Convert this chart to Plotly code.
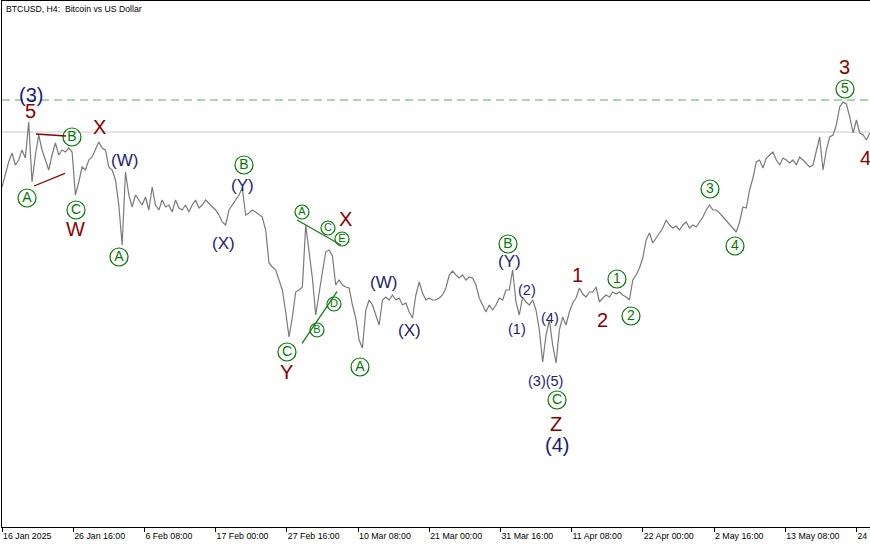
import plotly.graph_objects as go
import pandas as pd

close_usd = [
    99820, 101500, 103320, 104580, 102900, 103600, 105000, 103880, 108920, 100520,
    104300, 107100, 105000, 103600, 102200, 104300, 105980, 104300, 105000, 104720,
    105280, 104720, 98700, 100520, 102620, 102200, 103600, 104020, 105000, 106120,
    105280, 105000, 102620, 102200, 100800, 97300, 91700, 101920, 98700, 97020,
    98700, 98000, 97300, 98420, 96600, 99820, 97300, 96600, 98000, 97020,
    97300, 96320, 98000, 96880, 96600, 97300, 96320, 97300, 98000, 96880,
    97300, 98000, 97580, 97020, 96600, 95900, 94920, 94500, 96600, 97300,
    98000, 98700, 99680, 95900, 96180, 96600, 96320, 95900, 95620, 93800,
    89180, 88620, 88200, 86800, 85400, 82320, 78820, 81620, 85120, 85400,
    85820, 94500, 91000, 87080, 81900, 85120, 87920, 90720, 91000, 90160,
    86100, 86800, 86100, 85820, 85680, 83300, 81480, 78400, 77280, 82600,
    84000, 83300, 81900, 80500, 84000, 84420, 84000, 84700, 84000, 84280,
    83300, 83580, 82320, 81480, 84700, 86520, 84980, 84000, 84280, 84000,
    84000, 84280, 84700, 85680, 87500, 88060, 87500, 87080, 87500, 86800,
    87220, 87080, 86100, 84280, 83300, 82320, 83300, 82600, 83300, 84280,
    84000, 85400, 85400, 88200, 83720, 81900, 84420, 83720, 83300, 84000,
    82600, 79800, 75320, 79100, 81200, 77700, 75180, 79800, 81620, 80500,
    82320, 83580, 84280, 85680, 84840, 84420, 85120, 85120, 85820, 83720,
    84280, 84700, 84420, 85120, 84840, 85120, 84700, 84420, 84000, 86800,
    87500, 88480, 89880, 92400, 93380, 91980, 92680, 93380, 94080, 95200,
    94500, 94080, 94360, 93800, 94500, 94920, 94080, 94500, 94220, 94920,
    95620, 96600, 97300, 96600, 96600, 96180, 95620, 95200, 94500, 94080,
    93520, 94920, 97020, 96880, 99400, 101080, 103320, 103600, 102480, 103880,
    104300, 104720, 103600, 102900, 103880, 103600, 103180, 103600, 102900, 104020,
    103600, 103180, 102620, 102900, 105000, 106820, 102200, 105000, 106820, 107100,
    108500, 111020, 111720, 111440, 109620, 107380, 109200, 107380, 107100, 106400,
    107380,
]
start_time = "2025-01-16 00:00"
times = pd.date_range(start_time, periods=len(close_usd), freq="12h")

tick_times = [
    "2025-01-16 00:00", "2025-01-26 16:00", "2025-02-06 08:00", "2025-02-17 00:00",
    "2025-02-27 16:00", "2025-03-10 08:00", "2025-03-21 00:00", "2025-03-31 16:00",
    "2025-04-11 08:00", "2025-04-22 00:00", "2025-05-02 16:00", "2025-05-13 08:00",
    "2025-05-24 00:00",
]
tick_labels = [
    "16 Jan 2025", "26 Jan 16:00", "6 Feb 08:00", "17 Feb 00:00", "27 Feb 16:00",
    "10 Mar 08:00", "21 Mar 00:00", "31 Mar 16:00", "11 Apr 08:00", "22 Apr 00:00",
    "2 May 16:00", "13 May 08:00", "24 May 00:00",
]

# Plain Elliott wave labels: text, time, price, style
wave_text = ["(3)", "5", "W", "X", "(W)", "(Y)", "(X)", "X", "Y", "(W)", "(X)",
             "(Y)", "(2)", "(1)", "(4)", "(3)(5)", "Z", "(4)", "1", "2", "3", "4"]
wave_time = ["2025-01-20 08:00", "2025-01-20 04:40", "2025-01-26 22:30", "2025-01-30 12:50",
             "2025-02-03 10:10", "2025-02-20 22:55", "2025-02-18 06:10", "2025-03-08 09:20",
             "2025-02-27 16:40", "2025-03-14 01:55", "2025-03-17 23:25", "2025-04-02 02:30",
             "2025-04-04 15:35", "2025-04-03 03:40", "2025-04-08 02:20", "2025-04-07 11:55",
             "2025-04-08 23:55", "2025-04-09 03:30", "2025-04-12 03:25", "2025-04-15 21:20",
             "2025-05-22 07:00", "2025-05-25 10:30"]
wave_price = [112700, 110500, 93940, 108220, 103600, 100100, 91980, 95340, 73920, 86520,
              79800, 89460, 85400, 79940, 81480, 72660, 66640, 63700, 87500, 81200,
              116620, 103880]
wave_style = ["navy_l", "red", "red", "red", "navy", "navy", "navy", "red", "red", "navy",
              "navy", "navy", "navy_s", "navy_s", "navy_s", "navy_s", "red", "navy_l",
              "red", "red", "red", "red"]

# Circled wave labels (green): letter/digit, time, price, size class
circ_text = ["A", "B", "C", "A", "B", "A", "C", "E", "D", "B", "C", "A",
             "B", "C", "1", "2", "3", "4", "5"]
circ_time = ["2025-01-19 18:00", "2025-01-26 11:40", "2025-01-27 02:00", "2025-02-02 12:40",
             "2025-02-21 06:00", "2025-03-01 22:40", "2025-03-05 20:05", "2025-03-07 22:30",
             "2025-03-06 17:40", "2025-03-04 04:35", "2025-02-27 16:40", "2025-03-10 15:10",
             "2025-04-01 19:20", "2025-04-09 03:30", "2025-04-18 03:10", "2025-04-20 05:30",
             "2025-05-02 01:35", "2025-05-05 19:30", "2025-05-22 07:00"]
circ_price = [98280, 106820, 96600, 90020, 102900, 96320, 94080, 92540, 83440, 79800,
              76720, 74620, 91840, 70000, 86940, 81760, 99540, 91560, 113540]
circ_small = [False, False, False, False, False, True, True, True, True, True,
              False, False, False, False, False, False, False, False, False]

# trend lines: start time, start price, end time, end price, colour key
trend_lines = [
    ("2025-01-21 02:15", 107240, "2025-01-25 14:05", 106960, "red"),
    ("2025-01-20 19:05", 99960, "2025-01-25 10:30", 101740, "red"),
    ("2025-03-01 04:40", 95200, "2025-03-07 18:55", 91700, "green"),
    ("2025-03-01 22:40", 77940, "2025-03-07 04:30", 85160, "green"),
]
level_target = 112000   # green dashed level
level_bid = 107520      # grey price line

styles = {
    "red": dict(color="#8b0000", size=20, family="Liberation Sans"),
    "navy_l": dict(color="#1c1c78", size=20, family="Liberation Sans"),
    "navy": dict(color="#1c1c78", size=17, family="Liberation Sans"),
    "navy_s": dict(color="#1c1c78", size=14.5, family="Liberation Sans"),
}
GREEN = "#007a00"
line_colors = {"red": "#8b0000", "green": "#1a7a1a"}

fig = go.Figure()
fig.add_trace(go.Scatter(x=times, y=close_usd, mode="lines",
                         line=dict(color="#7a7a7a", width=1.2), hoverinfo="skip",
                         showlegend=False))

for small in (False, True):
    idx = [i for i, s in enumerate(circ_small) if s == small]
    fig.add_trace(go.Scatter(
        x=[circ_time[i] for i in idx], y=[circ_price[i] for i in idx],
        text=[circ_text[i] for i in idx], mode="markers+text",
        textposition="middle center",
        textfont=dict(family="Liberation Sans", size=11 if small else 14, color=GREEN),
        marker=dict(symbol="circle-open", size=14 if small else 18,
                    line=dict(color=GREEN, width=1.2), color=GREEN),
        hoverinfo="skip", showlegend=False, cliponaxis=False))

shapes = []
shapes.append(dict(type="line", xref="paper", x0=0, x1=1, yref="y", y0=level_bid, y1=level_bid,
                   line=dict(color="#c8c8c8", width=1), layer="below"))
shapes.append(dict(type="line", xref="paper", x0=0, x1=1, yref="y", y0=level_target, y1=level_target,
                   line=dict(color="#55b055", width=1, dash="8px,5px")))
for t0, p0, t1, p1, c in trend_lines:
    shapes.append(dict(type="line", xref="x", yref="y", x0=t0, y0=p0, x1=t1, y1=p1,
                       line=dict(color=line_colors[c], width=1.3)))

annotations = []
for txt, t, p, s in zip(wave_text, wave_time, wave_price, wave_style):
    annotations.append(dict(x=t, y=p, xref="x", yref="y", text=txt, showarrow=False,
                            xanchor="center", yanchor="middle", font=styles[s]))
annotations.append(dict(x=0, y=1, xref="paper", yref="paper", xanchor="left", yanchor="top",
                        xshift=2, yshift=-1, showarrow=False,
                        text="BTCUSD, H4:\u00a0 Bitcoin vs US Dollar",
                        font=dict(family="Liberation Sans", size=8.7, color="#000000")))

fig.update_layout(
    width=870, height=545,
    margin=dict(l=2, r=0, t=1, b=18, autoexpand=False),
    paper_bgcolor="white", plot_bgcolor="white",
    shapes=shapes, annotations=annotations,
    showlegend=False,
    xaxis=dict(type="date", range=["2025-01-16 00:00", "2025-05-26 00:55"],
               tickvals=tick_times, ticktext=tick_labels, ticks="outside", ticklen=4,
               tickcolor="#000000", ticklabelposition="outside right",
               ticklabeloverflow="allow", automargin=False,
               tickfont=dict(family="Liberation Sans", size=8.8, color="#000000"),
               showline=True, linecolor="#000000", linewidth=1, mirror=True,
               showgrid=False, zeroline=False, fixedrange=True),
    yaxis=dict(range=[52220, 125860], showticklabels=False, ticks="",
               showline=True, linecolor="#000000", linewidth=1, automargin=False,
               showgrid=False, zeroline=False, fixedrange=True),
)

fig.write_html("out.html", config={"displayModeBar": False, "staticPlot": True},
               post_script="document.body.style.margin='0';document.body.style.overflow='hidden';")
